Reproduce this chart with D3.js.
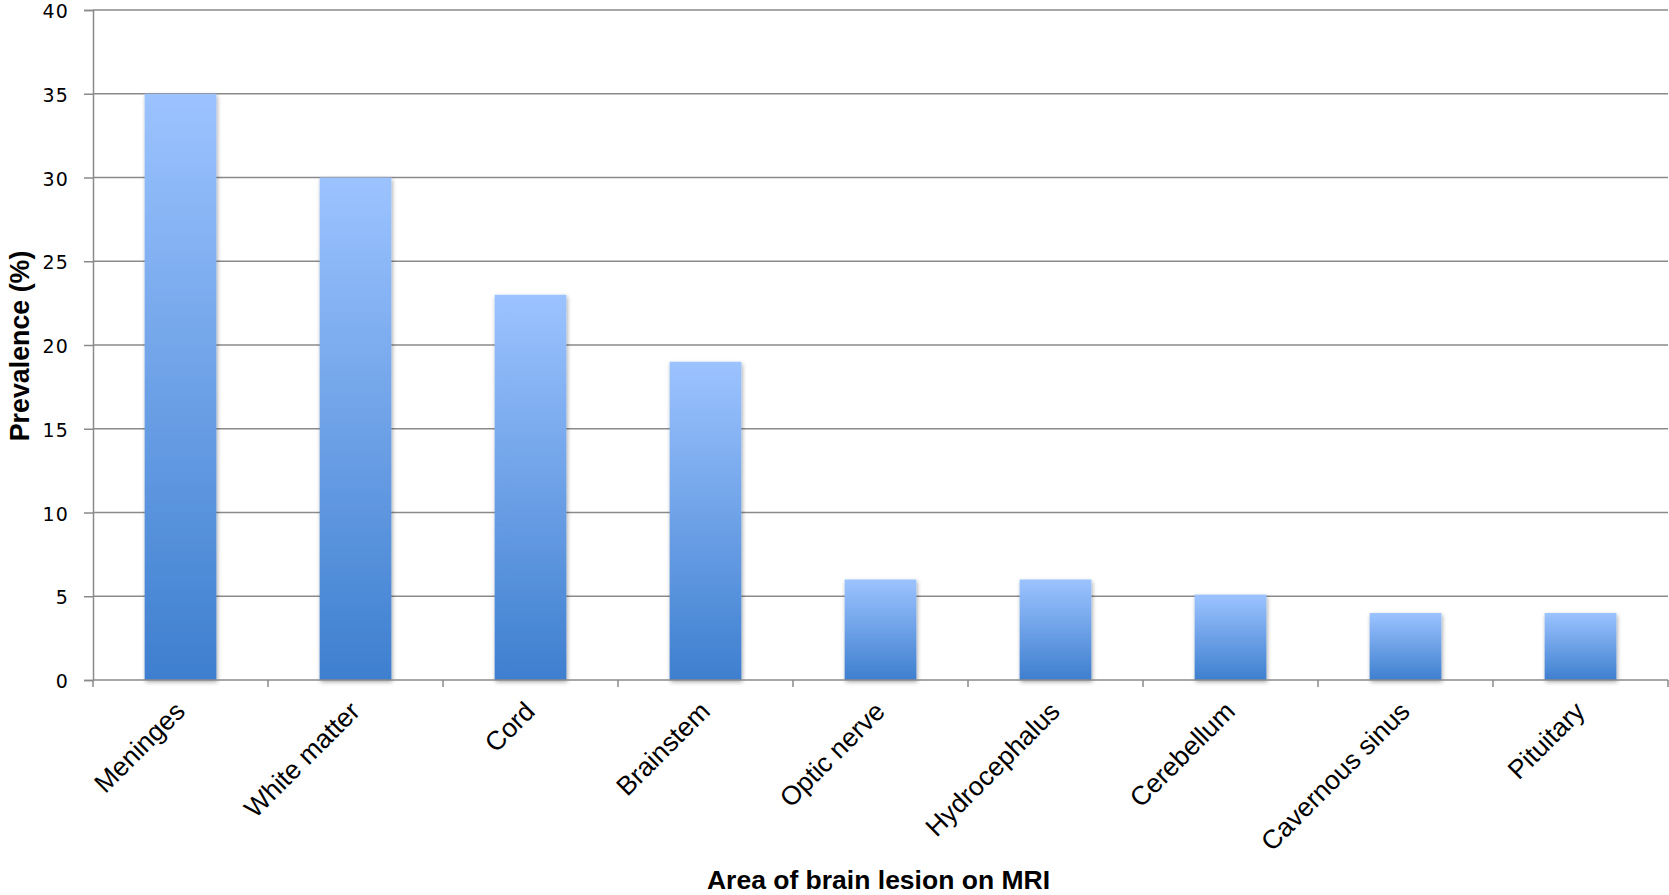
<!DOCTYPE html>
<html>
<head>
<meta charset="utf-8">
<script src="https://cdn.jsdelivr.net/npm/d3@7"></script>
<style>
  html, body { margin: 0; padding: 0; background: #fff; }
  svg { display: block; }
</style>
</head>
<body>
<div id="chart"></div>
<script>
// Prevalence of brain lesion locations on MRI
const categories = ["Meninges", "White matter", "Cord", "Brainstem", "Optic nerve",
                    "Hydrocephalus", "Cerebellum", "Cavernous sinus", "Pituitary"];
const prevalence = [35, 30, 23, 19, 6, 6, 5.1, 4, 4];
const yTicks = [0, 5, 10, 15, 20, 25, 30, 35, 40];
const xTitle = "Area of brain lesion on MRI";
const yTitle = "Prevalence (%)";

const W = 1669, H = 895;
const margin = { top: 10, right: 1, bottom: 215, left: 93 };
const plotBottom = H - margin.bottom;
const axisColor = "#8a8a8a";

const svg = d3.select("#chart").append("svg")
  .attr("width", W).attr("height", H);

const defs = svg.append("defs");
const grad = defs.append("linearGradient")
  .attr("id", "barFill").attr("x1", 0).attr("y1", 0).attr("x2", 0).attr("y2", 1);
grad.append("stop").attr("offset", "0%").attr("stop-color", "#9cc3ff");
grad.append("stop").attr("offset", "100%").attr("stop-color", "#3e7fcf");

const shadow = defs.append("filter").attr("id", "barShadow")
  .attr("x", "-20%").attr("y", "-5%").attr("width", "140%").attr("height", "115%");
shadow.append("feDropShadow")
  .attr("dx", 1).attr("dy", 2).attr("stdDeviation", 2)
  .attr("flood-color", "#000").attr("flood-opacity", 0.35);

const x = d3.scaleBand()
  .domain(categories)
  .range([margin.left, W - margin.right])
  .paddingInner(0.59)
  .paddingOuter(0.295);

const y = d3.scaleLinear()
  .domain([0, 40])
  .range([plotBottom, margin.top]);

// horizontal gridlines
svg.append("g").selectAll("line")
  .data(yTicks.filter(d => d > 0))
  .join("line")
  .attr("x1", margin.left).attr("x2", W - margin.right)
  .attr("y1", d => y(d)).attr("y2", d => y(d))
  .attr("stroke", axisColor).attr("stroke-width", 1.5);

// bars
svg.append("g").selectAll("rect")
  .data(categories.map((c, i) => ({ c, v: prevalence[i] })))
  .join("rect")
  .attr("x", d => x(d.c))
  .attr("width", x.bandwidth())
  .attr("y", d => y(d.v))
  .attr("height", d => y(0) - y(d.v))
  .attr("fill", "url(#barFill)")
  .attr("filter", "url(#barShadow)");

// y axis
const yAxis = svg.append("g")
  .attr("transform", `translate(${margin.left},0)`)
  .call(d3.axisLeft(y).tickValues(yTicks).tickSize(9).tickPadding(15));
yAxis.select(".domain").attr("stroke", axisColor).attr("stroke-width", 1.5);
yAxis.selectAll(".tick line").attr("stroke", axisColor).attr("stroke-width", 1.5);
yAxis.selectAll(".tick text")
  .attr("font-family", "DejaVu Sans, sans-serif")
  .attr("font-size", 19)
  .attr("letter-spacing", 1.2)
  .attr("dy", "0.4em")
  .attr("fill", "#000");

// x axis line with ticks at category boundaries
const step = x.step();
const x0 = x.range()[0];
const boundaries = d3.range(categories.length + 1).map(i => x0 + i * step);
const xAxis = svg.append("g");
xAxis.append("line")
  .attr("x1", margin.left).attr("x2", W - margin.right)
  .attr("y1", plotBottom).attr("y2", plotBottom)
  .attr("stroke", axisColor).attr("stroke-width", 1.5);
xAxis.selectAll("line.tick")
  .data(boundaries)
  .join("line")
  .attr("class", "tick")
  .attr("x1", d => d).attr("x2", d => d)
  .attr("y1", plotBottom).attr("y2", plotBottom + 7)
  .attr("stroke", axisColor).attr("stroke-width", 1.5);

// rotated category labels
svg.append("g").selectAll("text")
  .data(categories)
  .join("text")
  .attr("transform", d => `translate(${x(d) + x.bandwidth() / 2 + 6},${plotBottom + 33}) rotate(-45)`)
  .attr("text-anchor", "end")
  .attr("font-family", "Liberation Sans, Arial, sans-serif")
  .attr("font-size", 26.5)
  .attr("fill", "#000")
  .text(d => d);

// axis titles
svg.append("text")
  .attr("x", (margin.left + W - margin.right) / 2 - 2)
  .attr("y", 889)
  .attr("text-anchor", "middle")
  .attr("font-family", "Liberation Sans, Arial, sans-serif")
  .attr("font-weight", "bold")
  .attr("font-size", 26.5)
  .attr("fill", "#000")
  .text(xTitle);

svg.append("text")
  .attr("transform", `translate(29,346) rotate(-90)`)
  .attr("text-anchor", "middle")
  .attr("font-family", "Liberation Sans, Arial, sans-serif")
  .attr("font-weight", "bold")
  .attr("font-size", 26.8)
  .attr("fill", "#000")
  .text(yTitle);
</script>
</body>
</html>
